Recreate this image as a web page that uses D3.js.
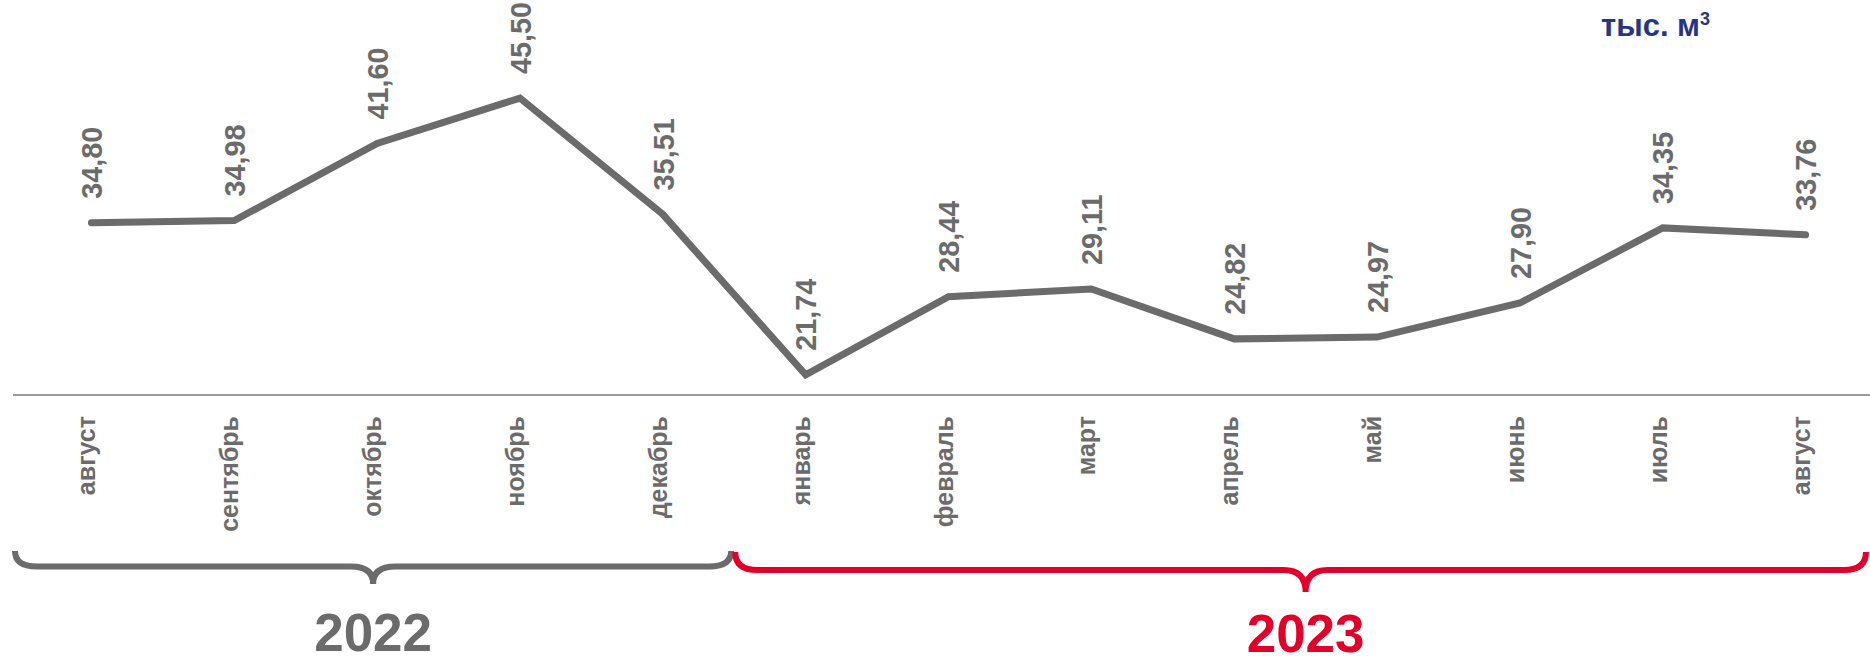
<!DOCTYPE html>
<html>
<head>
<meta charset="utf-8">
<script src="https://cdn.jsdelivr.net/npm/d3@7"></script>
<style>
  html, body { margin: 0; padding: 0; background: #fff; }
  svg { display: block; }
  text { font-family: "Liberation Sans", Arial, sans-serif; font-weight: bold; }
</style>
</head>
<body>
<svg id="chart" width="1870" height="664"></svg>
<script>
// ---- data ----
const months = ["август", "сентябрь", "октябрь", "ноябрь", "декабрь", "январь", "февраль", "март", "апрель", "май", "июнь", "июль", "август"];
const values = [34.80, 34.98, 41.60, 45.50, 35.51, 21.74, 28.44, 29.11, 24.82, 24.97, 27.90, 34.35, 33.76];
const valueLabels = ["34,80", "34,98", "41,60", "45,50", "35,51", "21,74", "28,44", "29,11", "24,82", "24,97", "27,90", "34,35", "33,76"];
const years = ["2022", "2023"];
const yearStart = [0, 5];   // first month index of each year
const yearEnd = [4, 12];    // last month index of each year
const unitLabel = "тыс. м";
const unitSup = "3";

// ---- styles ----
const GRAY = "#6b6b6b";
const RED = "#e2002b";
const NAVY = "#283583";

const svg = d3.select("#chart");
const idx = d3.range(months.length);

const x = d3.scaleBand().domain(idx).range([20, 1877]).padding(0);
const cx = i => x(i) + x.bandwidth() / 2;
const y = d3.scaleLinear().domain([20, 50]).range([395, 395 - 30 * 11.645]);

// axis baseline
svg.append("line")
  .attr("x1", 13).attr("x2", 1870)
  .attr("y1", y(20)).attr("y2", y(20))
  .attr("stroke", "#9a9a9a").attr("stroke-width", 2);

// line
const line = d3.line().x((d, i) => cx(i)).y(d => y(d));
svg.append("path")
  .datum(values)
  .attr("d", line)
  .attr("fill", "none")
  .attr("stroke", GRAY)
  .attr("stroke-width", 7)
  .attr("stroke-linecap", "round")
  .attr("stroke-linejoin", "miter");

// value labels
const vfs = 30;
svg.append("g").selectAll("text")
  .data(values)
  .join("text")
  .attr("transform", (d, i) => `translate(${cx(i) + vfs * 0.716 / 2},${y(d) - 24}) rotate(-90) scale(0.96,1)`)
  .attr("text-anchor", "start")
  .attr("font-size", vfs)
  .attr("fill", GRAY)
  .text((d, i) => valueLabels[i]);

// month labels
svg.append("g").selectAll("text")
  .data(months)
  .join("text")
  .attr("transform", (d, i) => `translate(${cx(i) + 4},416) rotate(-90)`)
  .attr("text-anchor", "end")
  .attr("font-size", 25)
  .attr("fill", GRAY)
  .text(d => d);

// unit label
const unit = svg.append("text")
  .attr("x", 1601).attr("y", 36)
  .attr("font-size", 31)
  .attr("fill", NAVY);
unit.append("tspan").text(unitLabel);
unit.append("tspan").attr("font-size", 18).attr("dy", -11).text(unitSup);

// braces
function bracePath(x1, x2, yTop, yH, xm, yTip, r) {
  return `M${x1},${yTop} Q${x1},${yH} ${x1 + r},${yH} L${xm - r},${yH} Q${xm},${yH} ${xm},${yTip} ` +
         `M${xm},${yTip} Q${xm},${yH} ${xm + r},${yH} L${x2 - r},${yH} Q${x2},${yH} ${x2},${yTop}`;
}
const braceCfg = [
  { color: GRAY, x1: x(yearStart[0]) - 5, x2: x(yearEnd[0]) + x.bandwidth() - 3, yTop: 551, yH: 566.5, yTip: 584, yText: 651 },
  { color: RED, x1: x(yearStart[1]) + 1, x2: 1866, yTop: 552, yH: 570, yTip: 592, yText: 652 }
];
braceCfg.forEach((b, k) => {
  const xm = (x(yearStart[k]) + x(yearEnd[k]) + x.bandwidth()) / 2 - (k === 0 ? 4 : 0);
  svg.append("path")
    .attr("d", bracePath(b.x1, b.x2, b.yTop, b.yH, xm, b.yTip, 22))
    .attr("fill", "none")
    .attr("stroke", b.color)
    .attr("stroke-width", 6);
  svg.append("text")
    .attr("x", xm).attr("y", b.yText)
    .attr("text-anchor", "middle")
    .attr("font-size", 53)
    .attr("fill", b.color)
    .text(years[k]);
});
</script>
</body>
</html>
